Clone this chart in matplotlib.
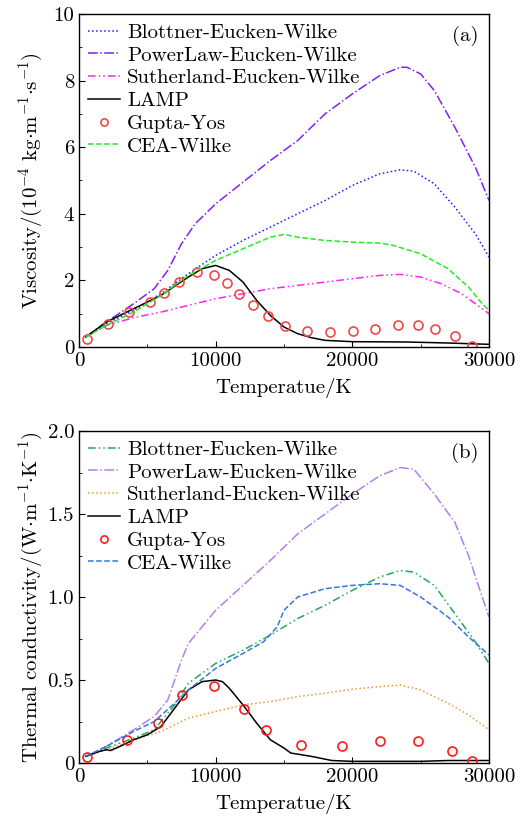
import numpy as np
import matplotlib
matplotlib.use("Agg")
import matplotlib.pyplot as plt
from matplotlib.ticker import MultipleLocator

plt.rcParams['font.family'] = ['cmr10', 'DejaVu Serif']
plt.rcParams['mathtext.fontset'] = 'cm'
plt.rcParams['axes.unicode_minus'] = False
plt.rcParams['axes.formatter.use_mathtext'] = False

# ---- (a) viscosity, 1e-4 kg/(m s) ----
T_blot_a = [500, 2000, 4000, 6000, 8000, 10000, 12000, 14000, 16000, 18000, 20000, 22000, 23500, 24500, 26000, 27500, 29000, 30000]
mu_blot = [0.3, 0.7, 1.1, 1.6, 2.2, 2.75, 3.2, 3.6, 4.0, 4.4, 4.85, 5.2, 5.32, 5.28, 4.9, 4.2, 3.4, 2.7]

T_pow_a = [500, 2000, 4000, 5500, 6500, 7500, 8500, 10000, 12000, 14000, 16000, 18000, 20000, 22000, 23500, 24000, 25000, 26000, 27500, 29000, 30000]
mu_pow = [0.3, 0.75, 1.3, 1.75, 2.3, 3.1, 3.7, 4.3, 4.95, 5.6, 6.2, 7.0, 7.6, 8.15, 8.4, 8.4, 8.2, 7.7, 6.6, 5.4, 4.4]

T_suth_a = [500, 2000, 4000, 6000, 8000, 10000, 12000, 14000, 16000, 18000, 20000, 22000, 23500, 25000, 26500, 28000, 29000, 30000]
mu_suth = [0.3, 0.65, 0.88, 1.05, 1.25, 1.45, 1.6, 1.75, 1.85, 1.95, 2.05, 2.15, 2.18, 2.1, 1.9, 1.6, 1.3, 1.0]

T_lamp_a = [500, 2000, 4000, 6000, 8000, 9000, 10000, 11000, 12000, 13000, 14000, 15000, 16000, 17000, 18000, 20000, 24000, 27000, 30000]
mu_lamp = [0.3, 0.75, 1.15, 1.55, 2.1, 2.35, 2.45, 2.3, 1.95, 1.4, 0.95, 0.6, 0.4, 0.28, 0.2, 0.16, 0.15, 0.12, 0.08]

T_gy_a = [560, 2145, 3680, 5190, 6240, 7310, 8650, 9870, 10850, 11720, 12750, 13840, 15060, 16650, 18350, 20060, 21640, 23350, 24810, 26030, 27540, 28760]
mu_gy = [0.25, 0.68, 1.05, 1.34, 1.62, 1.94, 2.24, 2.16, 1.92, 1.60, 1.25, 0.94, 0.64, 0.48, 0.45, 0.48, 0.55, 0.65, 0.65, 0.55, 0.33, 0.03]

T_cea_a = [500, 2000, 4000, 6000, 8000, 10000, 12000, 14000, 15000, 16000, 18000, 20000, 22000, 23000, 25000, 27000, 28500, 29500, 30000]
mu_cea = [0.3, 0.65, 1.05, 1.55, 2.15, 2.6, 2.95, 3.3, 3.38, 3.3, 3.2, 3.15, 3.12, 3.05, 2.8, 2.35, 1.8, 1.3, 1.1]

# ---- (b) thermal conductivity, W/(m K) ----
T_blot_b = [500, 2000, 4000, 5500, 7000, 8000, 10000, 12000, 14000, 16000, 18000, 20000, 22000, 23500, 24500, 26000, 27500, 29000, 30000]
k_blot = [0.04, 0.09, 0.15, 0.2, 0.35, 0.48, 0.6, 0.68, 0.77, 0.87, 0.95, 1.04, 1.12, 1.16, 1.15, 1.07, 0.9, 0.73, 0.6]

T_pow_b = [500, 2000, 4000, 5500, 6500, 7500, 8000, 9000, 10000, 12000, 14000, 16000, 18000, 20000, 22000, 23500, 24500, 26000, 27500, 28500, 29500, 30000]
k_pow = [0.04, 0.1, 0.2, 0.28, 0.38, 0.62, 0.72, 0.82, 0.92, 1.07, 1.22, 1.38, 1.5, 1.62, 1.73, 1.78, 1.77, 1.62, 1.45, 1.25, 1.0, 0.88]

T_suth_b = [500, 2000, 4000, 6000, 8000, 10000, 12000, 14000, 16000, 18000, 20000, 22000, 23500, 25000, 27000, 28500, 30000]
k_suth = [0.04, 0.08, 0.14, 0.19, 0.27, 0.31, 0.35, 0.37, 0.4, 0.42, 0.445, 0.46, 0.47, 0.44, 0.36, 0.29, 0.2]

T_lamp_b = [500, 1500, 2000, 2300, 3000, 4000, 5000, 6000, 7000, 8000, 9000, 10000, 10500, 11000, 12000, 13000, 14000, 15000, 15500, 17000, 18500, 20000, 25000, 27000, 30000]
k_lamp = [0.04, 0.07, 0.08, 0.075, 0.1, 0.14, 0.17, 0.22, 0.33, 0.44, 0.49, 0.5, 0.49, 0.45, 0.35, 0.24, 0.14, 0.09, 0.06, 0.04, 0.015, 0.01, 0.01, 0.015, 0.015]

T_gy_b = [560, 3490, 5800, 7555, 9895, 12065, 13650, 16210, 19250, 22010, 24810, 27320, 28780]
k_gy = [0.036, 0.137, 0.243, 0.41, 0.466, 0.323, 0.20, 0.11, 0.10, 0.13, 0.133, 0.07, 0.01]

T_cea_b = [500, 2000, 4000, 5500, 7000, 8000, 10000, 12000, 13500, 14500, 15000, 16000, 18000, 20000, 22000, 23500, 25000, 27000, 28500, 30000]
k_cea = [0.04, 0.1, 0.19, 0.25, 0.36, 0.44, 0.57, 0.66, 0.73, 0.82, 0.92, 1.0, 1.05, 1.07, 1.08, 1.07, 1.0, 0.88, 0.76, 0.65]

fig = plt.figure(figsize=(5.3, 8.18), dpi=100)
ax1 = fig.add_axes([79 / 530, 1 - 347 / 818, 410 / 530, 333 / 818])
ax2 = fig.add_axes([79 / 530, 1 - 763 / 818, 410 / 530, 332 / 818])

dashdotdot = (0, (5, 2, 1, 2, 1, 2))
lw = 1.1
fs = 15

ax1.plot(T_blot_a, mu_blot, ls=':', color='#1a1aff', lw=lw, label='Blottner-Eucken-Wilke')
ax1.plot(T_pow_a, mu_pow, ls='-.', color='#8020ff', lw=lw, label='PowerLaw-Eucken-Wilke')
ax1.plot(T_suth_a, mu_suth, ls=dashdotdot, color='#ff22ff', lw=lw, label='Sutherland-Eucken-Wilke')
ax1.plot(T_lamp_a, mu_lamp, ls='-', color='black', lw=lw, label='LAMP')
ax1.plot(T_gy_a, mu_gy, ls='none', marker='o', ms=6.5, mfc='none', mec='#f04848', mew=1.2, label='Gupta-Yos')
ax1.plot(T_cea_a, mu_cea, ls='--', color='#22ee22', lw=lw, label='CEA-Wilke')

ax2.plot(T_blot_b, k_blot, ls=dashdotdot, color='#22aa55', lw=lw, label='Blottner-Eucken-Wilke')
ax2.plot(T_pow_b, k_pow, ls='-.', color='#b080ee', lw=lw, label='PowerLaw-Eucken-Wilke')
ax2.plot(T_suth_b, k_suth, ls=':', color='#dda030', lw=lw, label='Sutherland-Eucken-Wilke')
ax2.plot(T_lamp_b, k_lamp, ls='-', color='black', lw=lw, label='LAMP')
ax2.plot(T_gy_b, k_gy, ls='none', marker='o', ms=6.5, mfc='none', mec='#ff1a1a', mew=1.2, label='Gupta-Yos')
ax2.plot(T_cea_b, k_cea, ls='--', color='#3377dd', lw=lw, label='CEA-Wilke')

ax1.set_ylim(0, 10)
ax1.yaxis.set_major_locator(MultipleLocator(2))
ax1.yaxis.set_minor_locator(MultipleLocator(1))
ax1.set_ylabel(r'$\mathrm{Viscosity}/(10^{-4}\ \mathrm{kg{\cdot}m^{-1}{\cdot}s^{-1}})$', fontsize=fs, labelpad=6)
ax1.text(0.975, 0.965, '(a)', transform=ax1.transAxes, ha='right', va='top', fontsize=fs)

ax2.set_ylim(0, 2.0)
ax2.set_yticks([0, 0.5, 1.0, 1.5, 2.0])
ax2.set_yticklabels(['0', '0.5', '1.0', '1.5', '2.0'])
ax2.yaxis.set_minor_locator(MultipleLocator(0.25))
ax2.set_ylabel(r'$\mathrm{Thermal\ conductivity}/(\mathrm{W{\cdot}m^{-1}{\cdot}K^{-1}})$', fontsize=fs, labelpad=2)
ax2.text(0.975, 0.965, '(b)', transform=ax2.transAxes, ha='right', va='top', fontsize=fs)

for ax in (ax1, ax2):
    ax.set_xlim(0, 30000)
    ax.xaxis.set_major_locator(MultipleLocator(10000))
    ax.xaxis.set_minor_locator(MultipleLocator(5000))
    ax.set_xlabel('Temperatue/K', fontsize=fs, labelpad=6)
    ax.tick_params(which='both', direction='in', top=False, right=False, labelsize=fs)
    ax.tick_params(which='major', length=4)
    ax.tick_params(which='minor', length=2.5)
    ax.legend(loc='upper left', frameon=False, fontsize=fs, handlelength=1.5,
              handletextpad=0.35, labelspacing=0.2, borderaxespad=0.3, borderpad=0.15,
              numpoints=1, markerscale=0.8)
    for s in ax.spines.values():
        s.set_linewidth(1.0)

fig.savefig('out.png', dpi=100)
